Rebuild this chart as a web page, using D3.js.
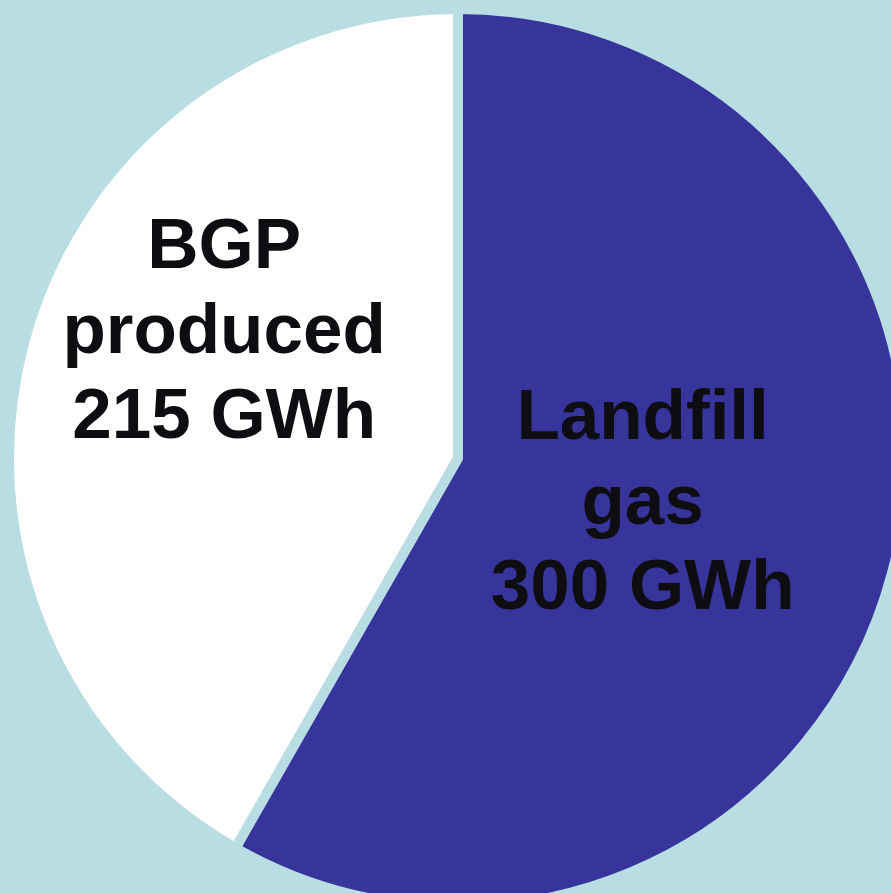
<!DOCTYPE html>
<html>
<head>
<meta charset="utf-8">
<script src="https://cdn.jsdelivr.net/npm/d3@7"></script>
<style>
  html, body { margin: 0; padding: 0; background: #b8dde2; overflow: hidden; }
</style>
</head>
<body>
<div id="pie_chart"></div>
<script>
// slices, clockwise from 12 o'clock
var names = ["Landfill gas", "BGP produced"];
var values = [300, 215];
var labelLines = [["Landfill", "gas", "300 GWh"], ["BGP", "produced", "215 GWh"]];

var width = 891, height = 893;
var bg = "#b8dde2";
var cx = 458, cy = 458, radius = 449;

var color = d3.scaleOrdinal()
    .domain(names)
    .range(["#37359b", "#ffffff"]);

var svg = d3.select("#pie_chart")
    .append("svg")
    .attr("width", width)
    .attr("height", height);

svg.append("rect")
    .attr("width", width)
    .attr("height", height)
    .attr("fill", bg);

var g = svg.append("g")
    .attr("transform", "translate(" + cx + "," + cy + ")");

var pie = d3.pie().sort(null).value(function (d) { return d.value; });
var arcs = pie(names.map(function (n, i) { return { name: n, value: values[i], lines: labelLines[i] }; }));

var arc = d3.arc().innerRadius(0).outerRadius(radius);

g.selectAll("path.slice")
    .data(arcs)
    .enter()
    .append("path")
    .attr("class", "slice")
    .attr("d", arc)
    .attr("fill", function (d) { return color(d.data.name); })
    .attr("stroke", bg)
    .attr("stroke-width", 10)
    .attr("stroke-linejoin", "bevel");

// label radius per slice (the big slice sits its label closer in)
var labelR = [191, 242];
var lineH = 85;

arcs.forEach(function (d, i) {
    var a = (d.startAngle + d.endAngle) / 2;
    var x = Math.sin(a) * labelR[i];
    var y = -Math.cos(a) * labelR[i];
    var top = i === 0 ? y - 68 : y - 128;   // baseline of first line
    var t = g.append("text")
        .attr("text-anchor", "middle")
        .attr("font-family", "Liberation Sans, Arial, sans-serif")
        .attr("font-weight", "bold")
        .attr("font-size", 71)
        .attr("fill", "#0d0d12");
    d.data.lines.forEach(function (line, j) {
        t.append("tspan")
            .attr("x", x)
            .attr("y", top + j * lineH)
            .text(line);
    });
});
</script>
</body>
</html>
